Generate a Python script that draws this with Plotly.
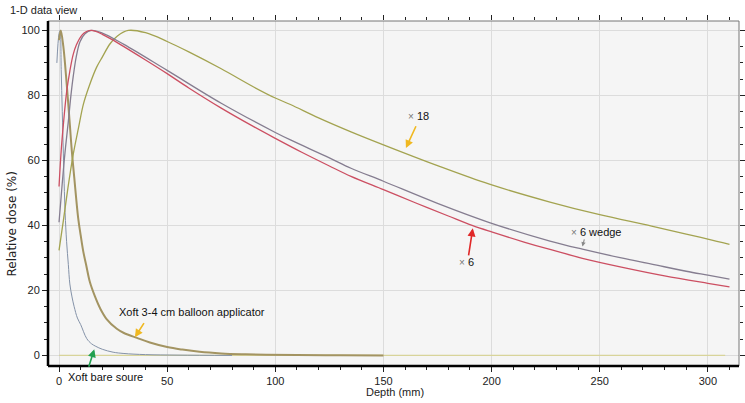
import plotly.graph_objects as go

# ---------------------------------------------------------------------------
# Depth-dose curves read off the 1-D data view (depth in mm, dose in %)
# ---------------------------------------------------------------------------
DEPTH_6MV = [0, 1, 2, 3.5, 5, 6.5, 8, 10.5, 12.5, 14.5, 17, 20, 25, 30, 40, 50, 60, 75,
             90, 100, 112, 125, 135, 150, 165, 180, 191, 200, 215, 227, 242, 260, 280, 300, 310]
DOSE_6MV = [52, 63, 71, 81, 87.5, 92.5, 95.5, 98.5, 99.6, 100, 99.7, 98.8, 97, 95, 90.9, 86.7,
            82.3, 76.1, 70.4, 66.8, 62.6, 58.3, 55.1, 51.0, 46.9, 42.9, 40.0, 38.0, 34.9, 32.6,
            29.9, 27.2, 24.5, 22.2, 21.1]

DEPTH_6WEDGE = [0, 1, 2, 3, 4.3, 5.5, 6.6, 8, 9.7, 12, 15, 20, 30, 50, 75, 100, 107, 125, 135,
                150, 175, 199, 227, 242, 260, 274, 290, 300, 310]
DOSE_6WEDGE = [41, 49, 57, 64, 72, 80, 86, 92, 96.5, 99, 100, 99.2, 95.7, 87.7, 77.6, 68.6,
               66.3, 60.8, 57.6, 53.6, 46.8, 40.9, 35.2, 32.7, 30.0, 28.1, 25.9, 24.7, 23.5]

DEPTH_18MV = [0, 2, 4, 6.6, 9, 11.3, 14, 17.4, 20, 23.6, 27, 32, 40, 50, 60, 75, 90, 100, 107,
              120, 135, 150, 175, 199, 227, 250, 274, 290, 300, 310]
DOSE_18MV = [32.3, 41.5, 51, 62, 70, 77.4, 83, 88.7, 91.8, 95.9, 98.3, 100, 99.3, 96.6, 93.4,
             88.2, 82.6, 79.2, 77.2, 73.1, 68.8, 64.8, 58.4, 52.7, 47.2, 43.3, 39.8, 37.3, 35.8,
             34.2]

DEPTH_BALLOON = [0, 0.8, 2, 3.6, 5, 5.9, 7, 8.9, 10, 11.2, 12.5, 14.3, 16.7, 19, 22, 26.7, 30,
                 36, 42, 50, 57, 65, 75, 85, 96, 110, 130, 150]
DOSE_BALLOON = [97, 100, 95, 83, 71, 63, 55, 42, 37, 32, 28, 22.5, 18, 14.5, 11.2, 8.2, 6.9,
                5.4, 4.0, 2.6, 1.8, 1.1, 0.6, 0.35, 0.2, 0.1, 0.05, 0]

DEPTH_BARE = [-1, 0, 0.5, 1, 1.5, 2, 2.8, 3.5, 4.3, 5, 6, 7, 8.5, 10, 12.8, 15, 17, 20, 25, 30,
              40, 55, 80]
DOSE_BARE = [90, 99, 100, 88, 75, 62, 44, 35, 28, 22, 18, 15, 11.5, 9.5, 5.2, 3.6, 2.8, 1.9,
             1.0, 0.6, 0.25, 0.1, 0]

DEPTH_ZERO = [0, 308]
DOSE_ZERO = [0, 0]

X_TICKS = [0, 50, 100, 150, 200, 250, 300]
Y_TICKS = [0, 20, 40, 60, 80, 100]
X_RANGE = [-5.1, 314.4]
Y_RANGE = [-3.25, 102.9]

FONT = "Liberation Sans, Arial, sans-serif"
GRID = "#dcdcdc"

fig = go.Figure()

fig.add_trace(go.Scatter(x=DEPTH_ZERO, y=DOSE_ZERO, mode="lines",
                         line=dict(color="#d8d49a", width=1.2)))
fig.add_trace(go.Scatter(x=DEPTH_BARE, y=DOSE_BARE, mode="lines", line_shape="spline",
                         line=dict(color="#8492a8", width=1)))
fig.add_trace(go.Scatter(x=DEPTH_BALLOON, y=DOSE_BALLOON, mode="lines", line_shape="spline",
                         line=dict(color="#a39462", width=2)))
fig.add_trace(go.Scatter(x=DEPTH_18MV, y=DOSE_18MV, mode="lines", line_shape="spline",
                         line=dict(color="#a3a350", width=1.3)))
fig.add_trace(go.Scatter(x=DEPTH_6WEDGE, y=DOSE_6WEDGE, mode="lines", line_shape="spline",
                         line=dict(color="#857d90", width=1.3)))
fig.add_trace(go.Scatter(x=DEPTH_6MV, y=DOSE_6MV, mode="lines", line_shape="spline",
                         line=dict(color="#cc4f62", width=1.3)))

# Labels with arrows pointing at the curves
def label(x, y, text):
    fig.add_annotation(x=x, y=y, text=text, showarrow=False,
                       font=dict(family=FONT, size=11, color="#111"))

def arrow(x, y, ax, ay, color, width=1.6, size=1.0):
    fig.add_annotation(x=x, y=y, ax=ax, ay=ay, text="", showarrow=True,
                       arrowhead=2, arrowsize=size, arrowwidth=width, arrowcolor=color)

CROSS = "<span style='color:#777;font-size:10px'>×</span> "

label(166, 73.7, CROSS + "18")
arrow(160.4, 63.8, 10.7, -23.3, "#f0b820")
label(248.5, 38.1, CROSS + "6 wedge")
arrow(242, 33.5, 2.3, -8.7, "#8a8a8a", width=1.1, size=0.8)
label(188.6, 28.6, CROSS + "6")
arrow(191.3, 39.1, -4.4, 28.4, "#e02828")
label(61.5, 13.3, "Xoft 3-4 cm balloon applicator")
arrow(35.1, 5.6, 10, -15.6, "#f0b820")
arrow(16.3, 1.9, -6, 19, "#22a050")
fig.add_annotation(x=21.3, xref="x", y=-0.0328, yref="paper", yanchor="middle",
                   text="Xoft bare soure", showarrow=False,
                   font=dict(family=FONT, size=11, color="#111"))

# Title and axis titles
fig.add_annotation(x=-0.058, y=1.032, xref="paper", yref="paper", xanchor="left",
                   yanchor="middle", text="1-D data view", showarrow=False,
                   font=dict(family=FONT, size=11, color="#222"))
fig.add_annotation(x=-0.0514, y=0.4116, xref="paper", yref="paper", textangle=-90,
                   xanchor="center", yanchor="middle", text="Relative dose (%)",
                   showarrow=False, font=dict(family="DejaVu Sans", size=12, color="#222"))
fig.add_annotation(x=0.502, y=-0.0754, xref="paper", yref="paper", xanchor="center",
                   yanchor="middle", text="Depth (mm)", showarrow=False,
                   font=dict(family=FONT, size=11, color="#222"))

# Plot frame: heavy left/bottom axis lines, thin top/right
fig.add_shape(type="rect", xref="paper", yref="paper", x0=0, x1=1, y0=0, y1=1,
              line=dict(color="#777", width=1), fillcolor="rgba(0,0,0,0)", layer="above")
fig.add_shape(type="line", xref="paper", yref="paper", x0=0, x1=0, y0=0, y1=1,
              line=dict(color="#000", width=2.5), layer="above")
fig.add_shape(type="line", xref="paper", yref="paper", x0=0, x1=1, y0=0, y1=0,
              line=dict(color="#000", width=2.5), layer="above")

fig.update_layout(
    width=745, height=403,
    margin=dict(l=48, r=6, t=21, b=37),
    paper_bgcolor="white",
    plot_bgcolor="#f5f5f5",
    showlegend=False,
    font=dict(family=FONT, size=11, color="#222"),
    xaxis=dict(range=X_RANGE, tickvals=X_TICKS, ticks="outside", ticklen=5,
               tickcolor="#222", showline=False, mirror="allticks",
               showgrid=True, gridcolor=GRID, zeroline=False,
               minor=dict(dtick=10, tick0=0, ticks="outside", ticklen=3, tickcolor="#222",
                          showgrid=False)),
    yaxis=dict(range=Y_RANGE, tickvals=Y_TICKS, ticks="outside", ticklen=5,
               tickcolor="#222", showline=False, mirror="allticks",
               showgrid=True, gridcolor=GRID, zeroline=False,
               minor=dict(dtick=5, tick0=0, ticks="outside", ticklen=3, tickcolor="#222",
                          showgrid=False)),
)

fig.write_html("out.html", config={"displayModeBar": False},
               post_script="document.body.style.margin='0';")
